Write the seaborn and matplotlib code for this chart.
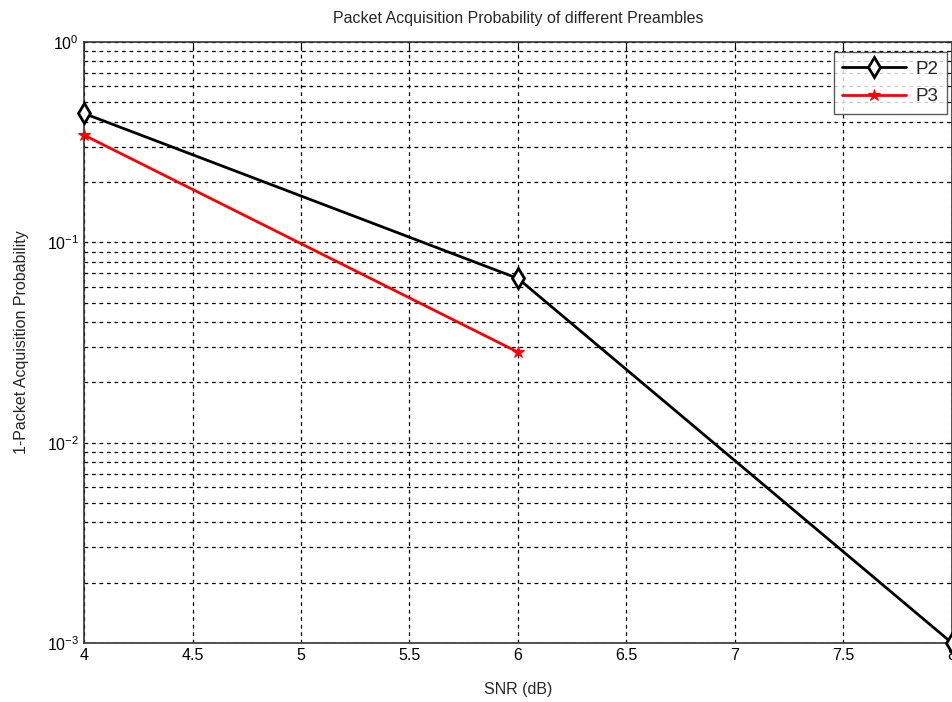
import numpy as np
import pandas as pd
import matplotlib
matplotlib.use("Agg")
import matplotlib.pyplot as plt
import seaborn as sns
from matplotlib.ticker import LogLocator, NullFormatter

# data
snr_p2 = [4, 6, 8]
err_p2 = [0.44, 0.066, 0.001]
snr_p3 = [4, 6]
err_p3 = [0.343, 0.0283]
x_ticks = [4, 4.5, 5, 5.5, 6, 6.5, 7, 7.5, 8]
x_tick_labels = ["4", "4.5", "5", "5.5", "6", "6.5", "7", "7.5", "8"]

sns.set_style("white")
plt.rcParams["font.family"] = ["Liberation Sans", "DejaVu Sans"]
plt.rcParams["mathtext.fontset"] = "custom"
plt.rcParams["mathtext.rm"] = "Liberation Sans"

df_p2 = pd.DataFrame({"snr": snr_p2, "err": err_p2})
df_p3 = pd.DataFrame({"snr": snr_p3, "err": err_p3})

fig = plt.figure(figsize=(9.53, 7.02), dpi=100)
ax = fig.add_axes([84 / 953, 59 / 702, 868 / 953, 601 / 702])

sns.lineplot(data=df_p2, x="snr", y="err", ax=ax, color="black", lw=2,
             marker="d", markersize=10, markerfacecolor="white",
             markeredgecolor="black", markeredgewidth=2, label="P2",
             clip_on=False, zorder=5)
sns.lineplot(data=df_p3, x="snr", y="err", ax=ax, color="red", lw=2,
             marker="*", markersize=9, markerfacecolor="red",
             markeredgecolor="red", label="P3", clip_on=False, zorder=5)

ax.set_yscale("log")
ax.set_xlim(4, 8)
ax.set_ylim(1e-3, 1)
ax.set_xticks(x_ticks)
ax.set_xticklabels(x_tick_labels)
ax.yaxis.set_major_locator(LogLocator(base=10, numticks=10))
ax.yaxis.set_minor_locator(LogLocator(base=10, subs=np.arange(2, 10), numticks=20))
ax.yaxis.set_minor_formatter(NullFormatter())

grid_kw = dict(color="black", linestyle=(0, (3, 3)), linewidth=0.9)
ax.grid(True, which="major", axis="both", **grid_kw)
ax.grid(True, which="minor", axis="y", **grid_kw)

ax.tick_params(which="both", direction="in", top=True, right=True,
               labelsize=11.5, colors="black", length=5)
ax.tick_params(which="minor", length=3)
for s in ax.spines.values():
    s.set_color("#333333")
    s.set_linewidth(1.2)

ax.set_title("Packet Acquisition Probability of different Preambles",
             fontsize=11.5, pad=14)
ax.set_xlabel("SNR (dB)", fontsize=11.5, labelpad=14)
ax.set_ylabel("1-Packet Acquisition Probability", fontsize=11.5, labelpad=13)

leg = ax.legend(loc="upper right", bbox_to_anchor=(0.994, 0.983),
                borderaxespad=0, fontsize=13.5, frameon=True, fancybox=False,
                handlelength=3.4, borderpad=0.45, labelspacing=0.55,
                handletextpad=0.5)
leg.get_frame().set_edgecolor("#333333")
leg.get_frame().set_linewidth(1)

fig.savefig("out.png", dpi=100)
